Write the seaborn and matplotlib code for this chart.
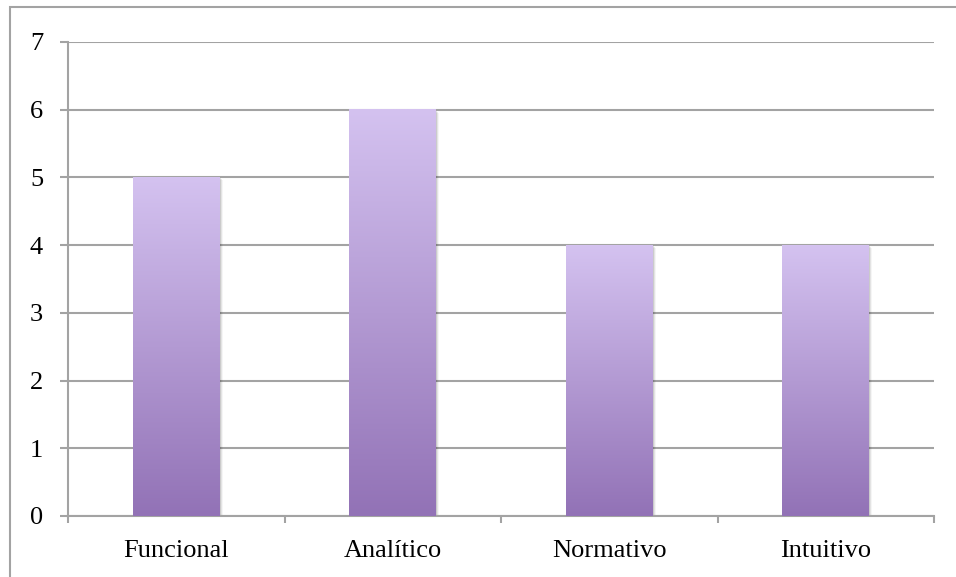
import numpy as np
import pandas as pd
import matplotlib
matplotlib.use("Agg")
import matplotlib.pyplot as plt
import matplotlib.transforms as mtransforms
from matplotlib.patches import Rectangle
from matplotlib.colors import LinearSegmentedColormap
import seaborn as sns

categories = ["Funcional", "Analítico", "Normativo", "Intuitivo"]
values = [5, 6, 4, 4]
y_ticks = [0, 1, 2, 3, 4, 5, 6, 7]

sns.set_theme(style="white")
plt.rcParams["font.family"] = ["Liberation Serif", "DejaVu Serif"]

GRID = "#A3A3A3"
TOP_COLOR = "#D4C2F0"
BOTTOM_COLOR = "#9272B6"

df = pd.DataFrame({"estilo": categories, "valor": values})

fig = plt.figure(figsize=(9.56, 5.77), dpi=100)
ax = fig.add_axes([68 / 956, 1 - 516 / 577, (934 - 68) / 956, (516 - 42) / 577])

sns.barplot(data=df, x="estilo", y="valor", order=categories, width=0.4,
            color=BOTTOM_COLOR, ax=ax, zorder=3)

ax.set_xlim(-0.5, len(categories) - 0.5)
ax.set_ylim(0, 7)

# vertical gradient fill plus a soft drop shadow for each bar
cmap = LinearSegmentedColormap.from_list("lav", [BOTTOM_COLOR, TOP_COLOR])
grad = np.linspace(0, 1, 256).reshape(-1, 1)
for p in ax.patches:
    x0, w, h = p.get_x(), p.get_width(), p.get_height()
    for i, a in enumerate([0.10, 0.07, 0.04]):
        off = mtransforms.offset_copy(ax.transData, fig=fig, x=(i + 1) * 1.0,
                                      y=-(i + 1) * 1.0, units="dots")
        ax.add_patch(Rectangle((x0, 0), w, h, transform=off, facecolor="black",
                               alpha=a, edgecolor="none", zorder=2))
    ax.imshow(grad, cmap=cmap, origin="lower", aspect="auto",
              extent=[x0, x0 + w, 0, h], zorder=4, interpolation="bilinear")
    p.set_facecolor("none")
    p.set_edgecolor("none")

ax.set_xlim(-0.5, len(categories) - 0.5)
ax.set_ylim(0, 7)

# axes styling
for s in ["top", "right"]:
    ax.spines[s].set_visible(False)
for s in ["left", "bottom"]:
    ax.spines[s].set_color(GRID)
    ax.spines[s].set_linewidth(1.5)
ax.set_yticks(y_ticks)
ax.yaxis.grid(True, color=GRID, linewidth=1.5, zorder=1)
ax.set_axisbelow(True)
ax.tick_params(axis="y", which="major", length=6, width=1.5, color=GRID,
               pad=12, labelsize=19, labelcolor="black", left=True)
ax.set_xticks(range(len(categories)))
ax.set_xticklabels(categories)
ax.set_xticks(np.arange(-0.5, len(categories)), minor=True)
ax.tick_params(axis="x", which="major", length=0, pad=17, labelsize=19,
               labelcolor="black")
ax.tick_params(axis="x", which="minor", length=5, width=1.5, color=GRID,
               bottom=True)
ax.set_xlabel("")
ax.set_ylabel("")

# outer chart frame
fig.patches.append(Rectangle((10 / 956, -0.05), 1.05, 1.05 - 7 / 577,
                             transform=fig.transFigure, fill=False,
                             edgecolor=GRID, linewidth=1.5))

fig.savefig("out.png", dpi=100)
